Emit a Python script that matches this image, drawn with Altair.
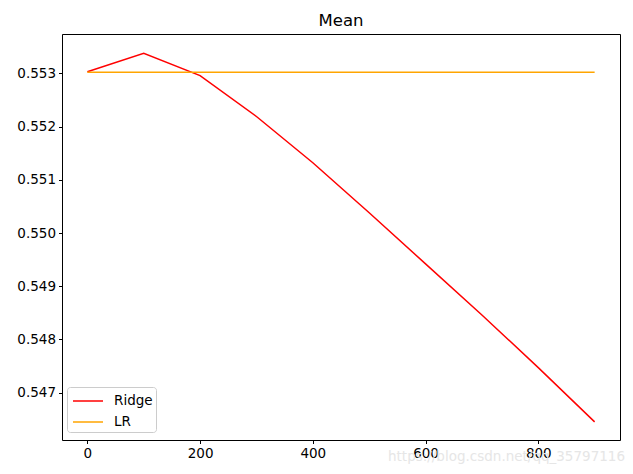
import altair as alt
import pandas as pd

alphas = [0, 100, 200, 300, 400, 500, 600, 700, 800, 900]
ridge = [0.55303, 0.55338, 0.55296, 0.55219, 0.55132, 0.55038, 0.54942, 0.54846, 0.54747, 0.54645]
lr = [0.55302] * len(alphas)
series_names = ["Ridge", "LR"]
series_colors = ["#ff0000", "#ffa500"]
x_ticks = [0, 200, 400, 600, 800]
y_ticks = [0.547, 0.548, 0.549, 0.550, 0.551, 0.552, 0.553]

rows = []
for a, r in zip(alphas, ridge):
    rows.append({"alpha": a, "value": r, "model": "Ridge"})
for a, v in zip(alphas, lr):
    rows.append({"alpha": a, "value": v, "model": "LR"})
df = pd.DataFrame(rows)

font = "DejaVu Sans"
xscale = alt.Scale(domain=[-45, 945], nice=False, zero=False)
yscale = alt.Scale(domain=[0.546109, 0.553741], nice=False, zero=False)

lines = alt.Chart(df).mark_line(strokeWidth=1.5, clip=True).encode(
    x=alt.X("alpha:Q", scale=xscale,
            axis=alt.Axis(values=x_ticks, title=None, grid=False, format="d",
                          domainColor="black", tickColor="black", tickSize=3.5,
                          labelColor="black", labelFontSize=13.5, labelFont=font,
                          labelPadding=3)),
    y=alt.Y("value:Q", scale=yscale,
            axis=alt.Axis(values=y_ticks, title=None, grid=False, format=".3f",
                          domainColor="black", tickColor="black", tickSize=3.5,
                          labelColor="black", labelFontSize=13.5, labelFont=font,
                          labelPadding=3)),
    color=alt.Color("model:N",
                    scale=alt.Scale(domain=series_names, range=series_colors),
                    legend=alt.Legend(title=None, orient="none", legendX=5, legendY=353,
                                      symbolType="M-1.5,0L1.5,0", symbolSize=400,
                                      symbolStrokeWidth=1.5, symbolOffset=7,
                                      labelFontSize=13.5,
                                      labelFont=font, labelColor="black",
                                      padding=3, strokeColor="#cccccc",
                                      fillColor="white", cornerRadius=3,
                                      rowPadding=3, labelOffset=15)),
)

frame = alt.Chart(df).mark_point(opacity=0).encode(
    x=alt.X("alpha:Q", scale=xscale,
            axis=alt.Axis(orient="top", values=x_ticks, title=None, grid=False,
                          labels=False, ticks=False, domainColor="black")),
    y=alt.Y("value:Q", scale=yscale,
            axis=alt.Axis(orient="right", values=y_ticks, title=None, grid=False,
                          labels=False, ticks=False, domainColor="black")),
)

watermark = alt.Chart(pd.DataFrame({"t": ["https://blog.csdn.net/qq_35797116"]})).mark_text(
    align="right", baseline="middle", fontSize=13.5, font=font, color="#e6e6e6"
).encode(text="t:N", x=alt.value(563), y=alt.value(423))

chart = alt.layer(lines, frame, watermark).resolve_axis(
    x="independent", y="independent"
).properties(
    width=558, height=406,
    title=alt.TitleParams("Mean", fontSize=16.5, font=font, fontWeight="normal",
                          color="black", anchor="middle", offset=5),
    padding={"left": 54, "top": 26, "right": 5, "bottom": 34},
    autosize=alt.AutoSizeParams(type="none"),
).configure_view(stroke=None).configure(background="white")

chart.save("out.html", embed_options={"renderer": "svg", "actions": False})
